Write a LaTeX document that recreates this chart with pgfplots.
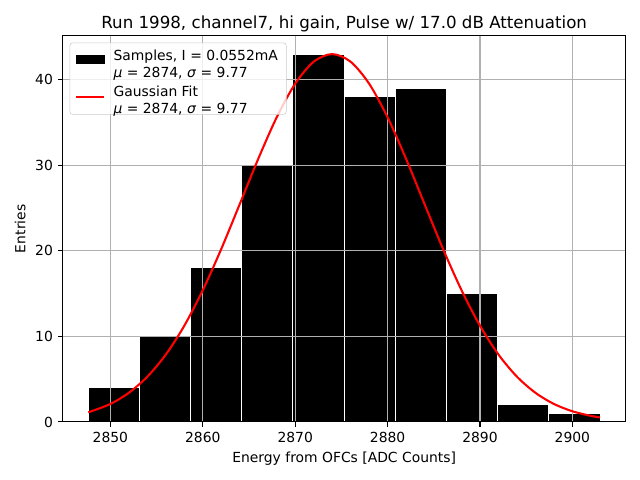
\documentclass[border=0pt]{standalone}
\usepackage{pgfplots}
\pgfplotsset{compat=1.18}
\usepackage{fontspec}
\setmainfont{DejaVu Sans}
\definecolor{gridgray}{HTML}{B0B0B0}
\definecolor{legframe}{HTML}{CCCCCC}
\newcommand{\twoline}[2]{{\begin{tabular}{@{}l@{}}#1\\[0.7pt]#2\end{tabular}}}
\begin{document}
\begin{tikzpicture}
\begin{axis}[
  set layers=standard,
  scale only axis,
  width=405.4pt, height=278.1pt,
  xmin=2844.83, xmax=2905.77,
  ymin=0, ymax=45.15,
  xtick={2850,2860,2870,2880,2890,2900},
  ytick={0,10,20,30,40},
  xtick pos=left, ytick pos=left,
  /pgf/number format/assume math mode=true,
  /pgf/number format/set thousands separator={},
  tick align=outside,
  major tick length=3.5pt,
  tick style={black, line width=0.8pt},
  axis line style={line width=0.8pt},
  grid=major,
  major grid style={gridgray, line width=0.8pt},
  tick label style={font=\fontsize{10}{12}\selectfont},
  label style={font=\fontsize{10}{12}\selectfont},
  xlabel={Energy from OFCs [ADC Counts]},
  ylabel={Entries},
  title={Run 1998, channel7, hi gain, Pulse w/ 17.0 dB Attenuation},
  title style={font=\fontsize{12}{14}\selectfont, at={(0.5,1)}, anchor=south, yshift=-6.5pt},
  legend cell align=left,
  legend style={at={(0,1)}, anchor=north west, xshift=5pt, yshift=-5pt,
    draw=legframe, rounded corners=2pt, fill=white, fill opacity=0.8, text opacity=1,
    font=\fontsize{10}{12}\selectfont, column sep=4pt, row sep=5.5pt, inner xsep=4pt, inner ysep=2pt},
]
\addplot[on layer=axis background, ybar, bar width=5.54, bar shift=0pt, fill=black, draw=white, line width=0.7pt,
  legend image code/.code={\fill[black, sharp corners, fill opacity=1] (0pt,-2.9pt) rectangle (20pt,2.9pt);}]
coordinates {
(2850.37,4) (2855.91,10) (2861.45,18) (2866.99,30) (2872.53,43)
(2878.07,38) (2883.61,39) (2889.15,15) (2894.69,2) (2900.23,1)
};
\addlegendentry{\twoline{Samples, I = 0.0552mA}{\textit{μ} = 2874, \textit{σ} = 9.77}}
\addplot[red, line width=1.5pt, smooth, mark=none,
  legend image code/.code={\draw[red, line width=1.5pt, sharp corners, draw opacity=1] (0pt,0pt) -- (20pt,0pt);}] coordinates {
(2847.6,1.117) (2850,2.104) (2852,3.408) (2854,5.292) (2856,7.879) (2858,11.249)
(2860,15.403) (2862,20.225) (2864,25.468) (2866,30.753) (2868,35.610) (2870,39.543)
(2872,42.108) (2874,43.000) (2876,42.108) (2878,39.543) (2880,35.610) (2882,30.753)
(2884,25.468) (2886,20.225) (2888,15.403) (2890,11.249) (2892,7.879) (2894,5.292)
(2896,3.408) (2898,2.104) (2900,1.247) (2902,0.708) (2903,0.525)
};
\addlegendentry{\twoline{Gaussian Fit}{\textit{μ} = 2874, \textit{σ} = 9.77\rule[-6pt]{0pt}{6pt}}}
\end{axis}
\pgfresetboundingbox
\path[use as bounding box] (-45.1pt,-41.8pt) rectangle (415.7pt,303.8pt);
\end{tikzpicture}
\end{document}
